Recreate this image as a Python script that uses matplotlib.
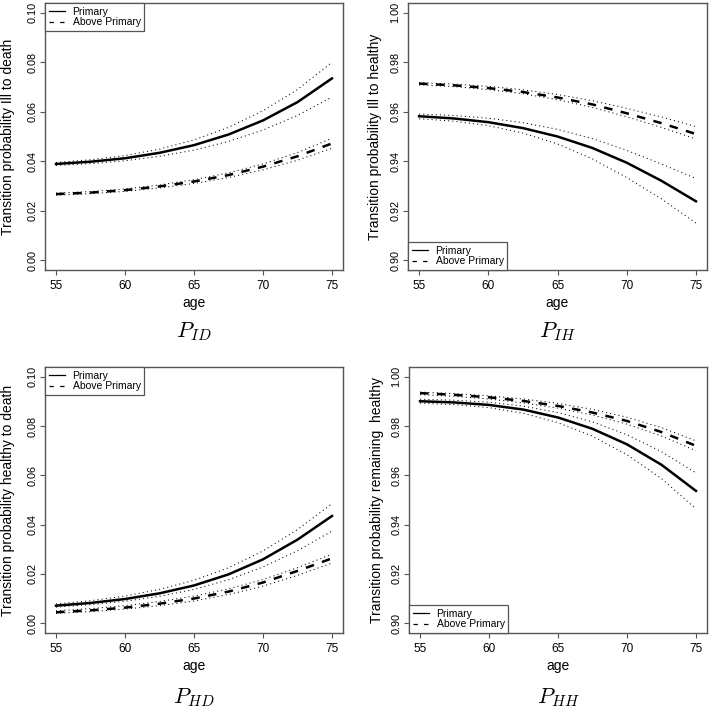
import matplotlib.pyplot as plt
from matplotlib.lines import Line2D

plt.rcParams['font.family'] = ['Liberation Sans', 'DejaVu Sans']
plt.rcParams['mathtext.fontset'] = 'cm'

age = [55, 57.5, 60, 62.5, 65, 67.5, 70, 72.5, 75]

# P_ID : ill -> death
id_prim = [0.0389, 0.0398, 0.0412, 0.0434, 0.0465, 0.0508, 0.0565, 0.0639, 0.0735]
id_prim_hi = [0.0395, 0.0406, 0.0423, 0.0449, 0.0486, 0.0537, 0.0604, 0.0690, 0.0800]
id_prim_lo = [0.0383, 0.0390, 0.0402, 0.0420, 0.0445, 0.0480, 0.0526, 0.0585, 0.0660]
id_above = [0.0267, 0.0273, 0.0283, 0.0298, 0.0318, 0.0344, 0.0378, 0.0420, 0.0472]
id_above_hi = [0.0271, 0.0277, 0.0288, 0.0304, 0.0325, 0.0353, 0.0389, 0.0435, 0.0493]
id_above_lo = [0.0263, 0.0269, 0.0278, 0.0292, 0.0310, 0.0334, 0.0365, 0.0404, 0.0452]

# P_IH : ill -> healthy
ih_prim = [0.9582, 0.9573, 0.9558, 0.9534, 0.9500, 0.9454, 0.9394, 0.9321, 0.9238]
ih_prim_hi = [0.9591, 0.9585, 0.9574, 0.9556, 0.9529, 0.9492, 0.9444, 0.9389, 0.9330]
ih_prim_lo = [0.9572, 0.9562, 0.9544, 0.9514, 0.9470, 0.9410, 0.9334, 0.9248, 0.9150]
ih_above = [0.9714, 0.9707, 0.9696, 0.9680, 0.9658, 0.9630, 0.9594, 0.9554, 0.9510]
ih_above_hi = [0.9718, 0.9712, 0.9703, 0.9689, 0.9670, 0.9645, 0.9614, 0.9579, 0.9540]
ih_above_lo = [0.9709, 0.9702, 0.9690, 0.9673, 0.9649, 0.9618, 0.9580, 0.9537, 0.9490]

# P_HD : healthy -> death
hd_prim = [0.0071, 0.0082, 0.0098, 0.0121, 0.0153, 0.0198, 0.0259, 0.0339, 0.0435]
hd_prim_hi = [0.0078, 0.0091, 0.0110, 0.0137, 0.0174, 0.0225, 0.0293, 0.0380, 0.0485]
hd_prim_lo = [0.0065, 0.0075, 0.0089, 0.0109, 0.0137, 0.0176, 0.0228, 0.0294, 0.0374]
hd_above = [0.0044, 0.0052, 0.0063, 0.0079, 0.0100, 0.0128, 0.0165, 0.0212, 0.0263]
hd_above_hi = [0.0050, 0.0059, 0.0071, 0.0088, 0.0110, 0.0139, 0.0177, 0.0225, 0.0280]
hd_above_lo = [0.0040, 0.0047, 0.0057, 0.0071, 0.0090, 0.0116, 0.0150, 0.0194, 0.0244]

# P_HH : remaining healthy
hh_prim = [0.9901, 0.9896, 0.9886, 0.9867, 0.9835, 0.9789, 0.9726, 0.9643, 0.9537]
hh_prim_hi = [0.9909, 0.9905, 0.9897, 0.9881, 0.9855, 0.9817, 0.9765, 0.9696, 0.9610]
hh_prim_lo = [0.9893, 0.9887, 0.9875, 0.9852, 0.9814, 0.9759, 0.9684, 0.9587, 0.9464]
hh_above = [0.9934, 0.9927, 0.9917, 0.9902, 0.9882, 0.9855, 0.9821, 0.9776, 0.9720]
hh_above_hi = [0.9938, 0.9932, 0.9923, 0.9910, 0.9892, 0.9868, 0.9836, 0.9794, 0.9740]
hh_above_lo = [0.9928, 0.9921, 0.9910, 0.9894, 0.9873, 0.9845, 0.9808, 0.9760, 0.9700]

x_ticks = [55, 60, 65, 70, 75]
low_ticks = [0.00, 0.02, 0.04, 0.06, 0.08, 0.10]
high_ticks = [0.90, 0.92, 0.94, 0.96, 0.98, 1.00]
legend_labels = ['Primary', 'Above Primary']

W = 709.0
# pixel box (left, top, right, bottom), x of y-label centre, y of title centre
panels = [
    ((45, 3, 343, 270), 8, 332,
     (id_prim, id_prim_lo, id_prim_hi, id_above, id_above_lo, id_above_hi),
     'Transition probability Ill to death', r'$P_{ID}$', low_ticks, 'upper left'),
    ((408, 3, 707, 270), 375, 332,
     (ih_prim, ih_prim_lo, ih_prim_hi, ih_above, ih_above_lo, ih_above_hi),
     'Transition probability Ill to healthy', r'$P_{IH}$', high_ticks, 'lower left'),
    ((45, 367, 343, 633), 8, 698,
     (hd_prim, hd_prim_lo, hd_prim_hi, hd_above, hd_above_lo, hd_above_hi),
     'Transition probability healthy to death', r'$P_{HD}$', low_ticks, 'upper left'),
    ((409, 367, 707, 633), 377, 698,
     (hh_prim, hh_prim_lo, hh_prim_hi, hh_above, hh_above_lo, hh_above_hi),
     'Transition probability remaining  healthy', r'$P_{HH}$', high_ticks, 'lower left'),
]

fig = plt.figure(figsize=(7.09, 7.09), dpi=100)
box_col = '#555555'
dot = (0, (1, 3))
dash = (0, (3.4, 3.4))

for (l, t, r, b), ylab_x, title_y, series, ylab, title, yt, loc in panels:
    w, h = r - l, b - t
    ax = fig.add_axes([l / W, 1 - b / W, w / W, h / W])
    prim, prim_lo, prim_hi, above, above_lo, above_hi = series

    ax.plot(age, prim, color='k', lw=1.8, solid_joinstyle='round')
    ax.plot(age, prim_lo, color='k', lw=0.75, ls=dot)
    ax.plot(age, prim_hi, color='k', lw=0.75, ls=dot)
    ax.plot(age, above, color='k', lw=1.8, ls=dash)
    ax.plot(age, above_lo, color='k', lw=0.75, ls=dot)
    ax.plot(age, above_hi, color='k', lw=0.75, ls=dot)

    ax.set_xlim(54.2, 75.8)
    ax.set_ylim(yt[0] - 0.004, yt[-1] + 0.004)
    ax.set_xticks(x_ticks)
    ax.set_yticks(yt)
    ax.set_yticklabels(['%.2f' % v for v in yt])
    for s in ax.spines.values():
        s.set_color(box_col)
        s.set_linewidth(1.0)
    ax.tick_params(axis='both', direction='out', length=3.6, width=0.8, color=box_col)
    ax.tick_params(axis='x', labelsize=8.5, pad=3.5)
    ax.tick_params(axis='y', labelsize=7.8, pad=2.0, labelrotation=90)
    for lbl in ax.get_yticklabels():
        lbl.set_va('center')

    ax.set_xlabel('age', fontsize=10)
    ax.xaxis.set_label_coords(0.5, -33 / h)
    ax.xaxis.label.set_va('center')
    ax.set_ylabel(ylab, fontsize=10)
    ax.yaxis.set_label_coords((ylab_x - l) / w, 0.5)
    ax.yaxis.label.set_va('center')
    ax.text(0.5, -(title_y - b) / h, title, transform=ax.transAxes,
            ha='center', va='center', fontsize=16)

    handles = [Line2D([], [], color='k', lw=0.9),
               Line2D([], [], color='k', lw=0.9, ls=(0, (3.5, 5)))]
    leg = ax.legend(handles, legend_labels, loc=loc, fontsize=7.5, borderaxespad=0,
                    handlelength=1.6, handletextpad=0.7, labelspacing=0.05,
                    borderpad=0.35, fancybox=False, framealpha=1)
    leg.get_frame().set_edgecolor(box_col)
    leg.get_frame().set_linewidth(0.9)

fig.savefig('out.png', dpi=100)
